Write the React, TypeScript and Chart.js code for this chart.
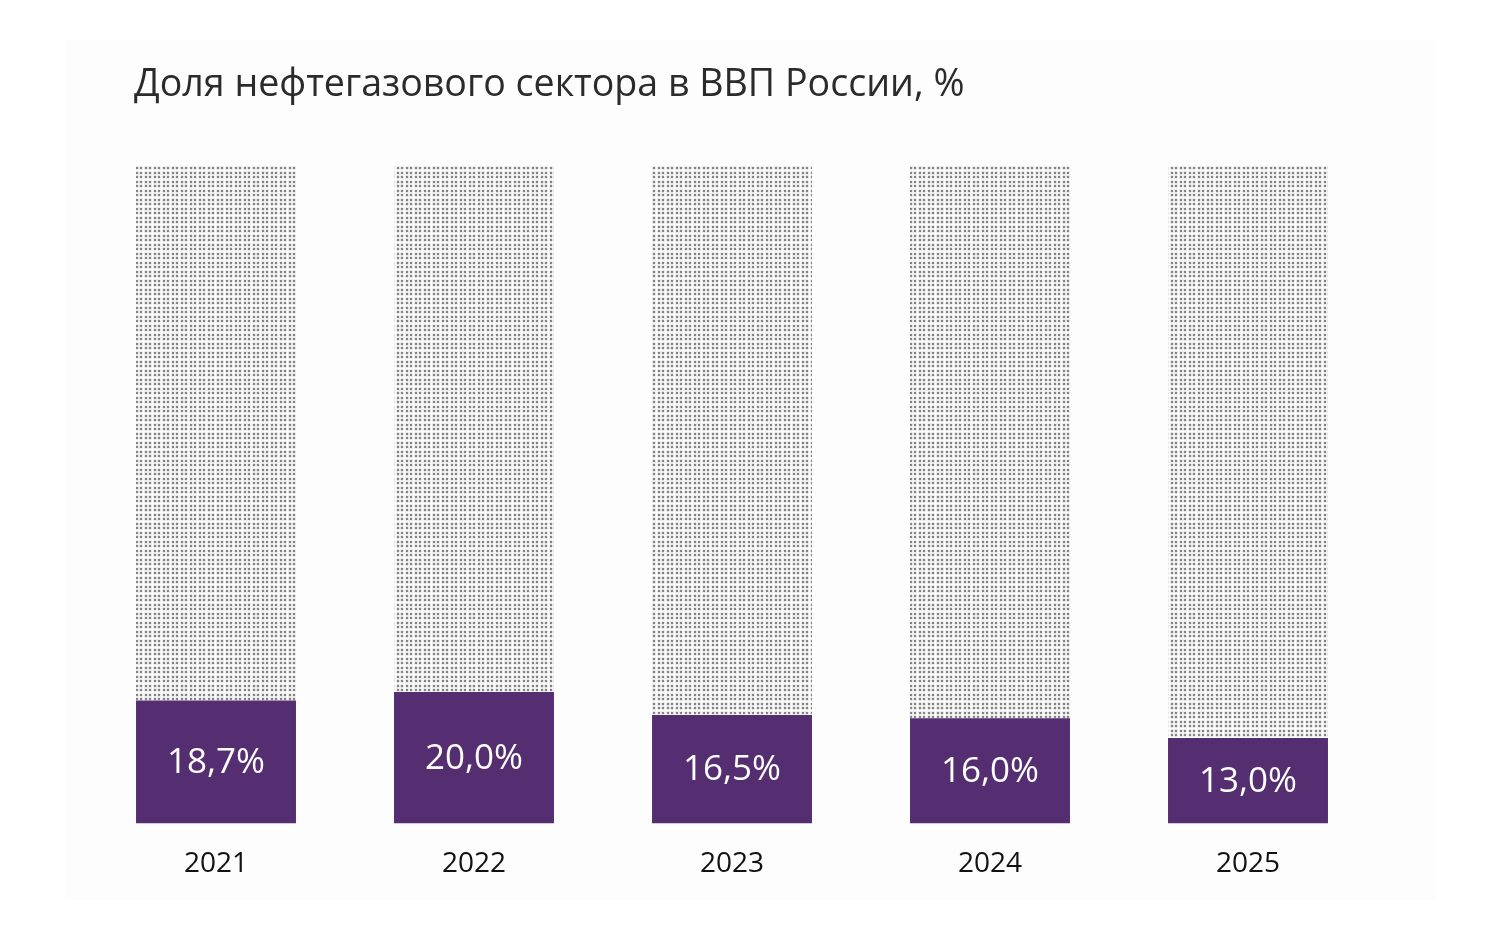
import React, { useEffect, useRef } from "react";
import { Chart, registerables } from "chart.js";

Chart.register(...registerables);

const TITLE = "Доля нефтегазового сектора в ВВП России, %";
const years = ["2021", "2022", "2023", "2024", "2025"];
const oilGasShare = [18.7, 20.0, 16.5, 16.0, 13.0];
const TOTAL = 100;
const restShare = oilGasShare.map((v) => TOTAL - v);

const PURPLE = "#552d71";
const FONT = "'Open Sans', 'Noto Sans', sans-serif";

function makeDotPattern(ctx: CanvasRenderingContext2D): CanvasPattern | string {
  const tile = document.createElement("canvas");
  tile.width = 9;
  tile.height = 9;
  const t = tile.getContext("2d");
  if (!t) return "#bbb";
  t.fillStyle = "rgba(130,130,130,0.35)";
  [1, 5].forEach((x) =>
    [1, 5].forEach((y) => t.fillRect(x - 0.5, y - 0.5, 3, 3))
  );
  t.fillStyle = "#838383";
  [1, 5].forEach((x) => [1, 5].forEach((y) => t.fillRect(x, y, 2, 2)));
  const p = ctx.createPattern(tile, "repeat");
  return p || "#bbb";
}

const panelPlugin = {
  id: "panelBg",
  beforeDraw(chart: any) {
    const { ctx } = chart;
    ctx.save();
    ctx.fillStyle = "#ffffff";
    ctx.fillRect(0, 0, chart.width, chart.height);
    ctx.fillStyle = "#fdfdfd";
    ctx.fillRect(65, 40, 1370, 860);
    ctx.restore();
  },
};

const titlePlugin = {
  id: "leftTitle",
  afterDraw(chart: any) {
    const { ctx } = chart;
    ctx.save();
    ctx.font = `400 37.6px ${FONT}`;
    ctx.fillStyle = "#2b2b2b";
    ctx.textAlign = "left";
    ctx.textBaseline = "alphabetic";
    ctx.fillText(TITLE, 134, 96);
    ctx.restore();
  },
};

const valueLabelPlugin = {
  id: "valueLabels",
  afterDatasetsDraw(chart: any) {
    const { ctx } = chart;
    const meta = chart.getDatasetMeta(0);
    ctx.save();
    ctx.font = `400 35px ${FONT}`;
    ctx.fillStyle = "#ffffff";
    ctx.textAlign = "center";
    ctx.textBaseline = "middle";
    meta.data.forEach((el: any, i: number) => {
      const { x, y, base } = el.getProps(["x", "y", "base"], true);
      const label = oilGasShare[i].toFixed(1).replace(".", ",") + "%";
      ctx.fillText(label, x, (y + base) / 2 + 1);
    });
    ctx.restore();
  },
};

export default function App() {
  const ref = useRef<HTMLCanvasElement | null>(null);

  useEffect(() => {
    document.body.style.margin = "0";
    const canvas = ref.current;
    if (!canvas) return;
    const ctx = canvas.getContext("2d");
    if (!ctx) return;
    const pattern = makeDotPattern(ctx);
    const chart = new Chart(ctx, {
      type: "bar",
      data: {
        labels: years,
        datasets: [
          {
            label: "Нефтегазовый сектор",
            data: oilGasShare,
            backgroundColor: PURPLE,
            borderWidth: 0,
            barPercentage: 0.62,
            categoryPercentage: 1,
          },
          {
            label: "Остальное",
            data: restShare,
            backgroundColor: pattern as any,
            borderWidth: 0,
            barPercentage: 0.62,
            categoryPercentage: 1,
          },
        ],
      },
      options: {
        animation: false,
        responsive: false,
        devicePixelRatio: 1,
        layout: { padding: { top: 166, left: 87, right: 127, bottom: 36 } },
        plugins: {
          legend: { display: false },
          title: { display: false },
          tooltip: { enabled: false },
        },
        scales: {
          x: {
            stacked: true,
            grid: { display: false, drawTicks: false },
            border: { display: false },
            ticks: {
              color: "#111",
              font: { family: FONT, size: 28 },
              padding: 24,
            },
          },
          y: {
            stacked: true,
            display: false,
            min: 0,
            max: TOTAL,
          },
        },
      },
      plugins: [panelPlugin, titlePlugin, valueLabelPlugin],
    });
    return () => chart.destroy();
  }, []);

  return (
    <div style={{ width: 1504, height: 941 }}>
      <canvas ref={ref} width={1504} height={941} style={{ display: "block" }} />
    </div>
  );
}
